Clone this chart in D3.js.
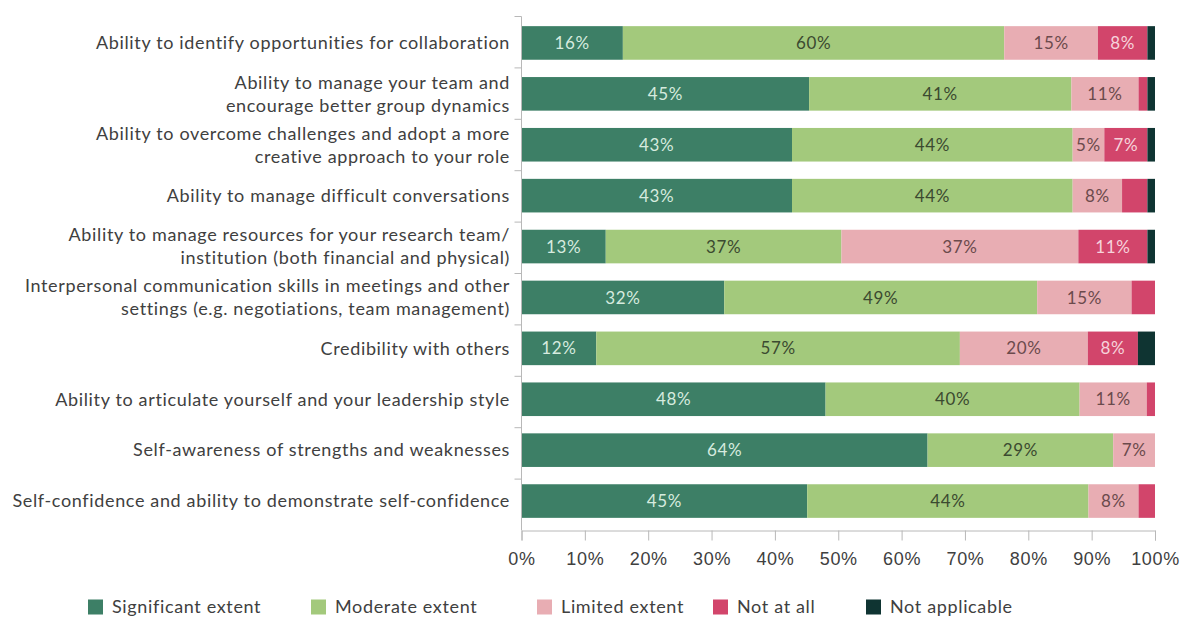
<!DOCTYPE html>
<html>
<head>
<meta charset="utf-8">
<script src="https://cdn.jsdelivr.net/npm/d3@7"></script>
<style>
  body { margin: 0; background: #fff; }
  svg { display: block; font-family: Futura, "Century Gothic", Lato, sans-serif; letter-spacing: 0.65px; }
</style>
</head>
<body>
<script>
// categories, top to bottom (each entry is the lines of the label)
const categories = [
  ["Ability to identify opportunities for collaboration"],
  ["Ability to manage your team and", "encourage better group dynamics"],
  ["Ability to overcome challenges and adopt a more", "creative approach to your role"],
  ["Ability to manage difficult conversations"],
  ["Ability to manage resources for your research team/", "institution (both financial and physical)"],
  ["Interpersonal communication skills in meetings and other", "settings (e.g. negotiations, team management)"],
  ["Credibility with others"],
  ["Ability to articulate yourself and your leadership style"],
  ["Self-awareness of strengths and weaknesses"],
  ["Self-confidence and ability to demonstrate self-confidence"]
];

const seriesNames = ["Significant extent", "Moderate extent", "Limited extent", "Not at all", "Not applicable"];

// % per category, same order as categories
const significant   = [16.0, 45.4, 42.7, 42.7, 13.3, 32.0, 11.8, 48.0, 64.1, 45.1];
const moderate      = [60.2, 41.4, 44.3, 44.3, 37.2, 49.4, 57.4, 40.1, 29.3, 44.4];
const limited       = [14.8, 10.6,  5.0,  7.8, 37.4, 14.9, 20.2, 10.6,  6.6,  7.9];
const notAtAll      = [ 7.8,  1.4,  6.8,  4.0, 10.9,  3.7,  7.9,  1.3,  0.0,  2.6];
const notApplicable = [ 1.2,  1.2,  1.2,  1.2,  1.2,  0.0,  2.7,  0.0,  0.0,  0.0];

const xTicks = [0, 10, 20, 30, 40, 50, 60, 70, 80, 90, 100];

const colors = ["#3d7f66", "#a3c97c", "#e8adb3", "#d2456b", "#0f3432"];
const labelColors = ["#d6ebdf", "#3b4a30", "#6b4a4c", "#f6d3db", "#ffffff"];

const width = 1187, height = 621;
const margin = {left: 521.5, right: 32, top: 17.5, bottom: 94.5};

const rows = categories.map((c, i) => ({
  key: i,
  "Significant extent": significant[i],
  "Moderate extent": moderate[i],
  "Limited extent": limited[i],
  "Not at all": notAtAll[i],
  "Not applicable": notApplicable[i]
}));

const stack = d3.stack().keys(seriesNames)(rows);

const x = d3.scaleLinear().domain([0, 100]).range([margin.left, width - margin.right]);
const y = d3.scaleBand().domain(d3.range(categories.length))
    .range([margin.top, height - margin.bottom]).paddingInner(0.34).paddingOuter(0.17);

const svg = d3.select("body").append("svg")
    .attr("width", width)
    .attr("height", height);

const axisColor = "#b8b8b8";
const textColor = "#404040";
const axisY = 530.5;

// bars
const layer = svg.append("g")
  .selectAll("g")
  .data(stack)
  .join("g")
    .attr("fill", (d, i) => colors[i]);

layer.selectAll("rect")
  .data(d => d)
  .join("rect")
    .attr("x", d => x(d[0]))
    .attr("width", d => x(d[1]) - x(d[0]))
    .attr("y", d => y(d.data.key))
    .attr("height", y.bandwidth());

// value labels
svg.append("g")
    .attr("text-anchor", "middle")
    .style("font-size", "17px")
  .selectAll("g")
  .data(stack)
  .join("g")
    .attr("fill", (d, i) => labelColors[i])
  .selectAll("text")
  .data(d => d.filter(v => v[1] - v[0] >= 5))
  .join("text")
    .attr("x", d => (x(d[0]) + x(d[1])) / 2)
    .attr("y", d => y(d.data.key) + y.bandwidth() / 2)
    .attr("dy", "0.36em")
    .text(d => Math.round(d[1] - d[0]) + "%");

// left axis line and category ticks
svg.append("line")
    .attr("x1", margin.left).attr("x2", margin.left)
    .attr("y1", 16.5).attr("y2", axisY)
    .attr("stroke", axisColor);

svg.append("g")
  .selectAll("line")
  .data(d3.range(categories.length))
  .join("line")
    .attr("x1", margin.left - 7).attr("x2", margin.left)
    .attr("y1", i => 16.5 + i * (axisY - 16.5) / categories.length)
    .attr("y2", i => 16.5 + i * (axisY - 16.5) / categories.length)
    .attr("stroke", axisColor);

// category labels
const lineH = 23;
svg.append("g")
    .attr("text-anchor", "end")
    .attr("fill", textColor)
    .style("font-size", "18px")
  .selectAll("text")
  .data(categories)
  .join("text")
    .attr("transform", (d, i) => `translate(510,${y(i) + y.bandwidth() / 2})`)
  .selectAll("tspan")
  .data(d => d.map((t, j) => ({t, j, n: d.length})))
  .join("tspan")
    .attr("x", 0)
    .attr("y", d => (d.j - (d.n - 1) / 2) * lineH)
    .attr("dy", "0.35em")
    .text(d => d.t);

// bottom axis
const xAxis = svg.append("g")
    .attr("transform", `translate(0,${axisY})`)
    .call(d3.axisBottom(x).tickValues(xTicks).tickSize(10).tickPadding(12).tickFormat(d => d + "%"));
xAxis.select(".domain").attr("stroke", axisColor);
xAxis.selectAll(".tick line").attr("stroke", axisColor);
xAxis.selectAll(".tick text")
    .attr("fill", textColor)
    .style("font-size", "18px")
    .style("font-family", "inherit");

// legend
const legendX = [88, 311, 537, 713, 866];
const legend = svg.append("g")
  .selectAll("g")
  .data(seriesNames)
  .join("g")
    .attr("transform", (d, i) => `translate(${legendX[i]},607)`);

legend.append("rect")
    .attr("x", 0).attr("y", -7.5)
    .attr("width", 15).attr("height", 15)
    .attr("fill", (d, i) => colors[i]);

legend.append("text")
    .attr("x", 24)
    .attr("dy", "0.35em")
    .attr("fill", textColor)
    .style("font-size", "18px")
    .text(d => d);
</script>
</body>
</html>
